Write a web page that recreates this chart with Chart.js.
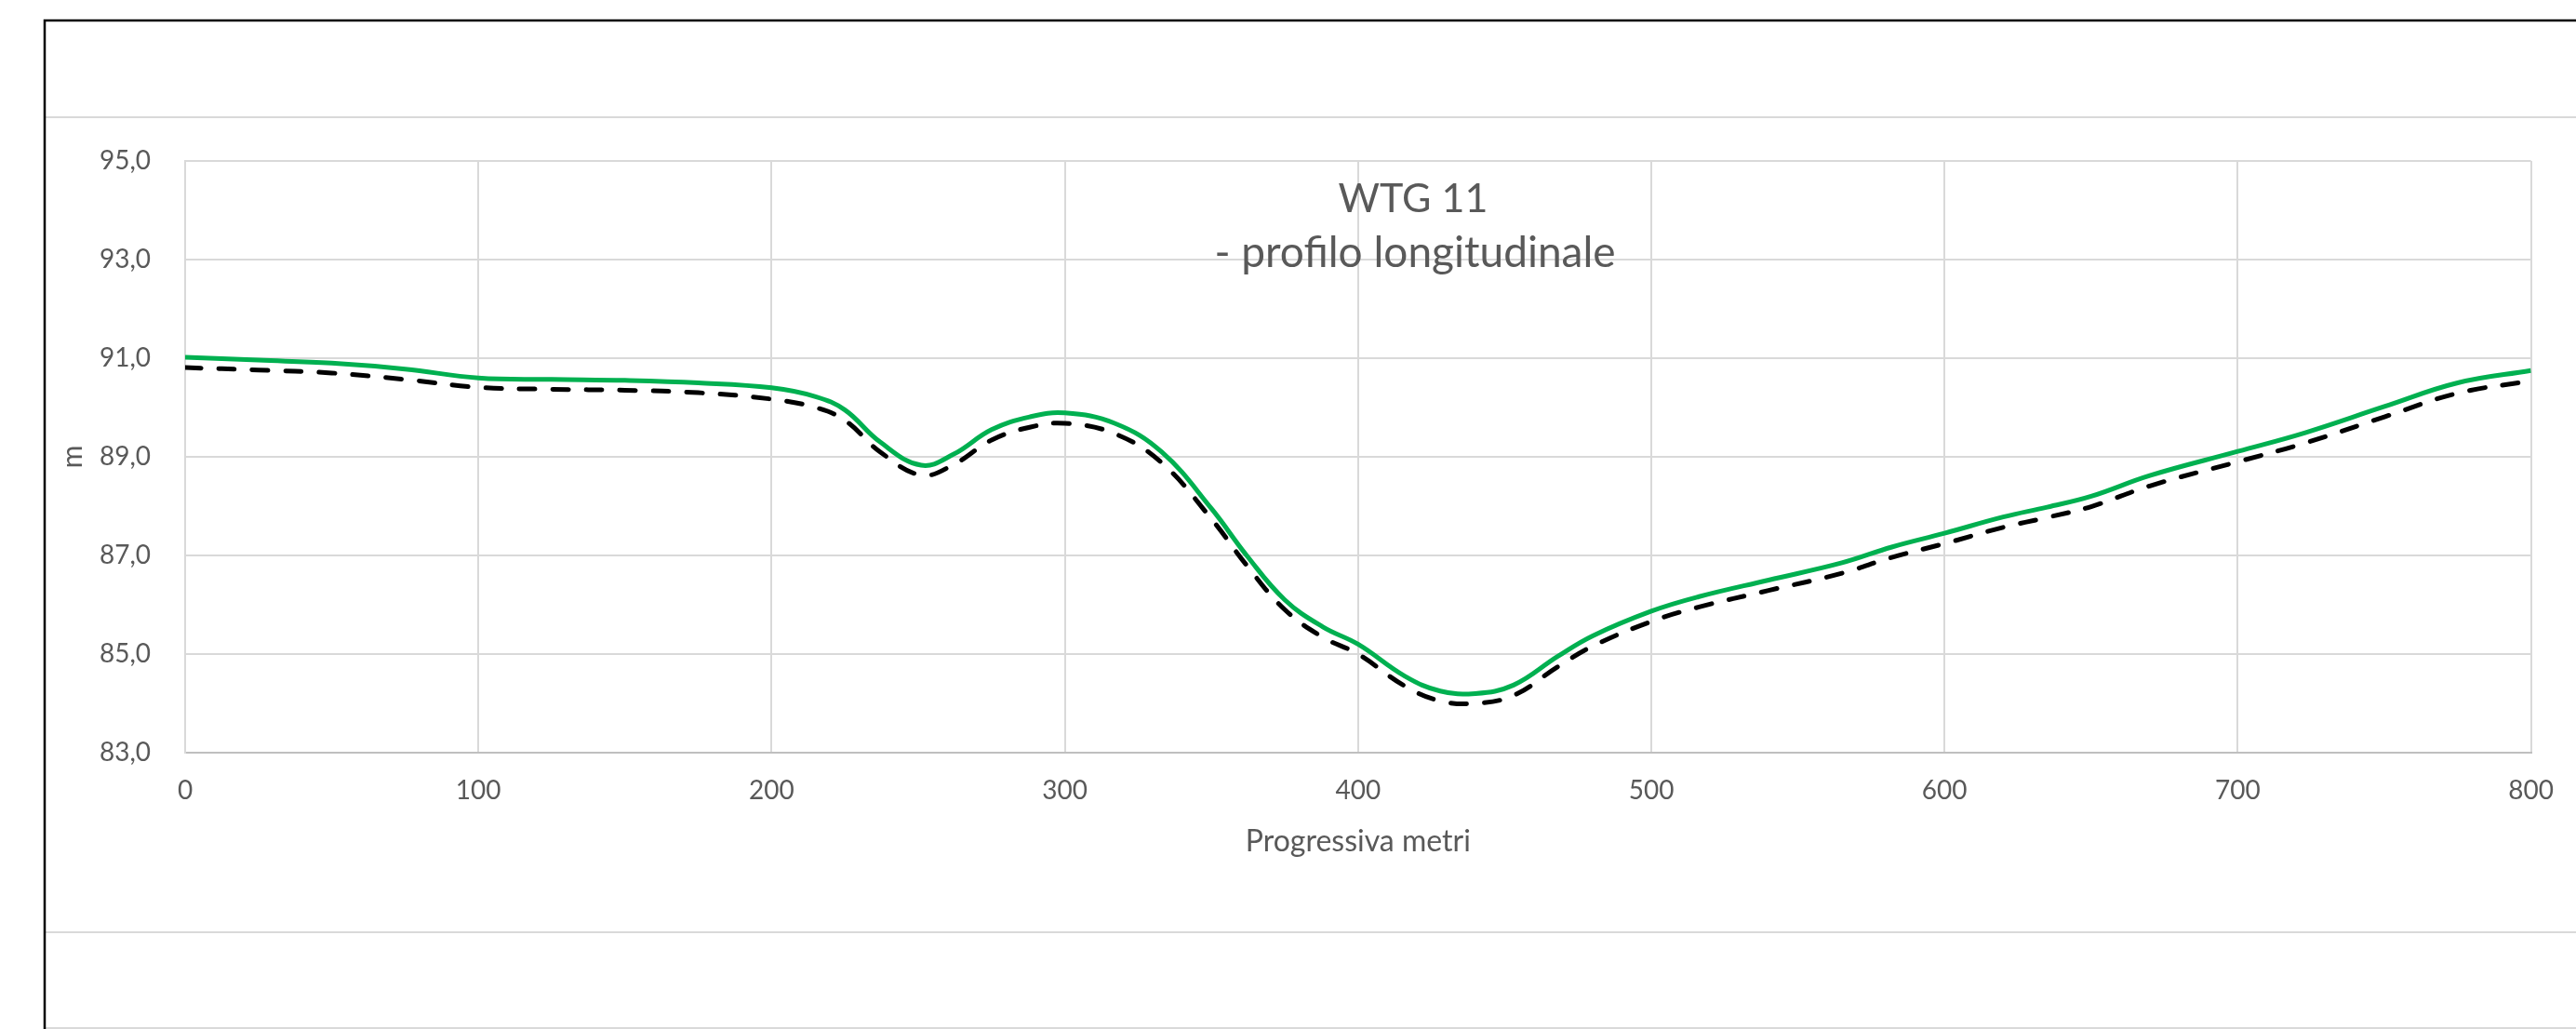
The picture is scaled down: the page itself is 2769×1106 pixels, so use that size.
<!DOCTYPE html>
<html>
<head>
<meta charset="utf-8">
<title>WTG 11 - profilo longitudinale</title>
<script src="https://cdn.jsdelivr.net/npm/chart.js@4.4.1/dist/chart.umd.min.js"></script>
<style>
  html, body { margin: 0; padding: 0; background: #fff; }
  #wrap { width: 2769px; height: 1106px; position: relative; }
</style>
</head>
<body>
<div id="wrap"><canvas id="profilo"></canvas></div>
<script>
// progressive in metri lungo l'asse
const progressive = [0, 25, 50, 75, 100, 125, 150, 175, 200, 215, 225, 237, 251, 262, 275, 288, 300,
  317, 333, 350, 362, 375, 388, 400, 416, 428, 440, 453, 468, 480, 500, 516, 540, 565, 582, 600,
  620, 635, 650, 670, 700, 723, 750, 775, 800];

// quota terreno (linea verde)
const quotaTerreno = [91.02, 90.96, 90.90, 90.78, 90.60, 90.57, 90.55, 90.50, 90.40, 90.22, 89.95, 89.30,
  88.83, 89.05, 89.55, 89.81, 89.89, 89.68, 89.10, 87.95, 87.00, 86.10, 85.55, 85.20, 84.55, 84.25,
  84.20, 84.37, 84.95, 85.37, 85.87, 86.16, 86.50, 86.85, 87.17, 87.45, 87.78, 87.98, 88.20, 88.62,
  89.11, 89.49, 90.02, 90.50, 90.75];

// quota di progetto (linea tratteggiata)
const quotaProgetto = [90.81, 90.76, 90.70, 90.57, 90.41, 90.37, 90.35, 90.30, 90.17, 90.00, 89.74, 89.10,
  88.63, 88.84, 89.34, 89.60, 89.68, 89.47, 88.88, 87.74, 86.80, 85.90, 85.34, 85.00, 84.35, 84.05,
  84.00, 84.16, 84.74, 85.16, 85.66, 85.95, 86.29, 86.64, 86.96, 87.24, 87.57, 87.77, 87.99, 88.41,
  88.90, 89.28, 89.81, 90.29, 90.54];

const xTicks = [0, 100, 200, 300, 400, 500, 600, 700, 800];
const yTicks = [83, 85, 87, 89, 91, 93, 95];

const titleLines = ['WTG 11', '- profilo longitudinale'];

const grey = '#595959';
const gridGrey = '#d9d9d9';

// cornice del foglio e titolo sovrapposto all'area del grafico
const framePlugin = {
  id: 'frame',
  beforeDraw(chart) {
    const ctx = chart.ctx;
    const w = chart.width, h = chart.height;
    ctx.save();
    ctx.fillStyle = '#fff';
    ctx.fillRect(0, 0, w, h);
    ctx.strokeStyle = gridGrey;
    ctx.lineWidth = 2;
    [126, 1002, 1105].forEach(y => {
      ctx.beginPath();
      ctx.moveTo(48, y);
      ctx.lineTo(w, y);
      ctx.stroke();
    });
    ctx.strokeStyle = '#000';
    ctx.lineWidth = 2.5;
    ctx.beginPath();
    ctx.moveTo(48, h);
    ctx.lineTo(48, 22);
    ctx.lineTo(w, 22);
    ctx.stroke();
    ctx.restore();
  },
  afterDraw(chart) {
    const ctx = chart.ctx;
    ctx.save();
    ctx.fillStyle = grey;
    ctx.textAlign = 'center';
    ctx.textBaseline = 'alphabetic';
    ctx.font = '43px Lato';
    ctx.fillText(titleLines[0], 1519, 228);
    ctx.font = '46px Lato';
    ctx.fillText(titleLines[1], 1521, 287);
    ctx.restore();
  }
};

const fmt = v => v.toFixed(1).replace('.', ',');

new Chart(document.getElementById('profilo'), {
  type: 'line',
  data: {
    datasets: [
      {
        label: 'Terreno',
        data: progressive.map((x, i) => ({ x, y: quotaTerreno[i] })),
        borderColor: '#00b050',
        borderWidth: 5,
        pointRadius: 0,
        tension: 0.4,
        fill: false
      },
      {
        label: 'Progetto',
        data: progressive.map((x, i) => ({ x, y: quotaProgetto[i] })),
        borderColor: '#000',
        borderWidth: 5,
        borderDash: [17, 19],
        borderCapStyle: 'round',
        pointRadius: 0,
        tension: 0.4,
        fill: false
      }
    ]
  },
  options: {
    responsive: true,
    maintainAspectRatio: false,
    animation: false,
    layout: { padding: { left: 0, top: 173, right: 41, bottom: 0 } },
    plugins: {
      legend: { display: false },
      title: { display: false },
      tooltip: { enabled: false }
    },
    scales: {
      x: {
        type: 'linear',
        min: 0,
        max: 800,
        afterBuildTicks: s => { s.ticks = xTicks.map(v => ({ value: v })); },
        afterFit: s => { s.height = 297; },
        grid: { color: gridGrey, lineWidth: 2, drawTicks: false },
        border: { color: '#bfbfbf', width: 2 },
        ticks: {
          color: grey,
          font: { family: 'Lato', size: 28 },
          padding: 24,
          maxRotation: 0
        },
        title: {
          display: true,
          text: 'Progressiva metri',
          color: grey,
          font: { family: 'Lato', size: 32 },
          padding: { top: 0, bottom: 182 }
        }
      },
      y: {
        min: 83,
        max: 95,
        afterBuildTicks: s => { s.ticks = yTicks.map(v => ({ value: v })); },
        afterFit: s => { s.width = 199; },
        grid: { color: gridGrey, lineWidth: 2, drawTicks: false },
        border: { color: gridGrey, width: 2 },
        ticks: {
          color: grey,
          font: { family: 'Lato', size: 28 },
          padding: 37,
          callback: v => fmt(v)
        },
        title: {
          display: true,
          text: 'm',
          color: grey,
          font: { family: 'Lato', size: 30 },
          padding: { top: 60, bottom: 0 }
        }
      }
    }
  },
  plugins: [framePlugin]
});
</script>
</body>
</html>
